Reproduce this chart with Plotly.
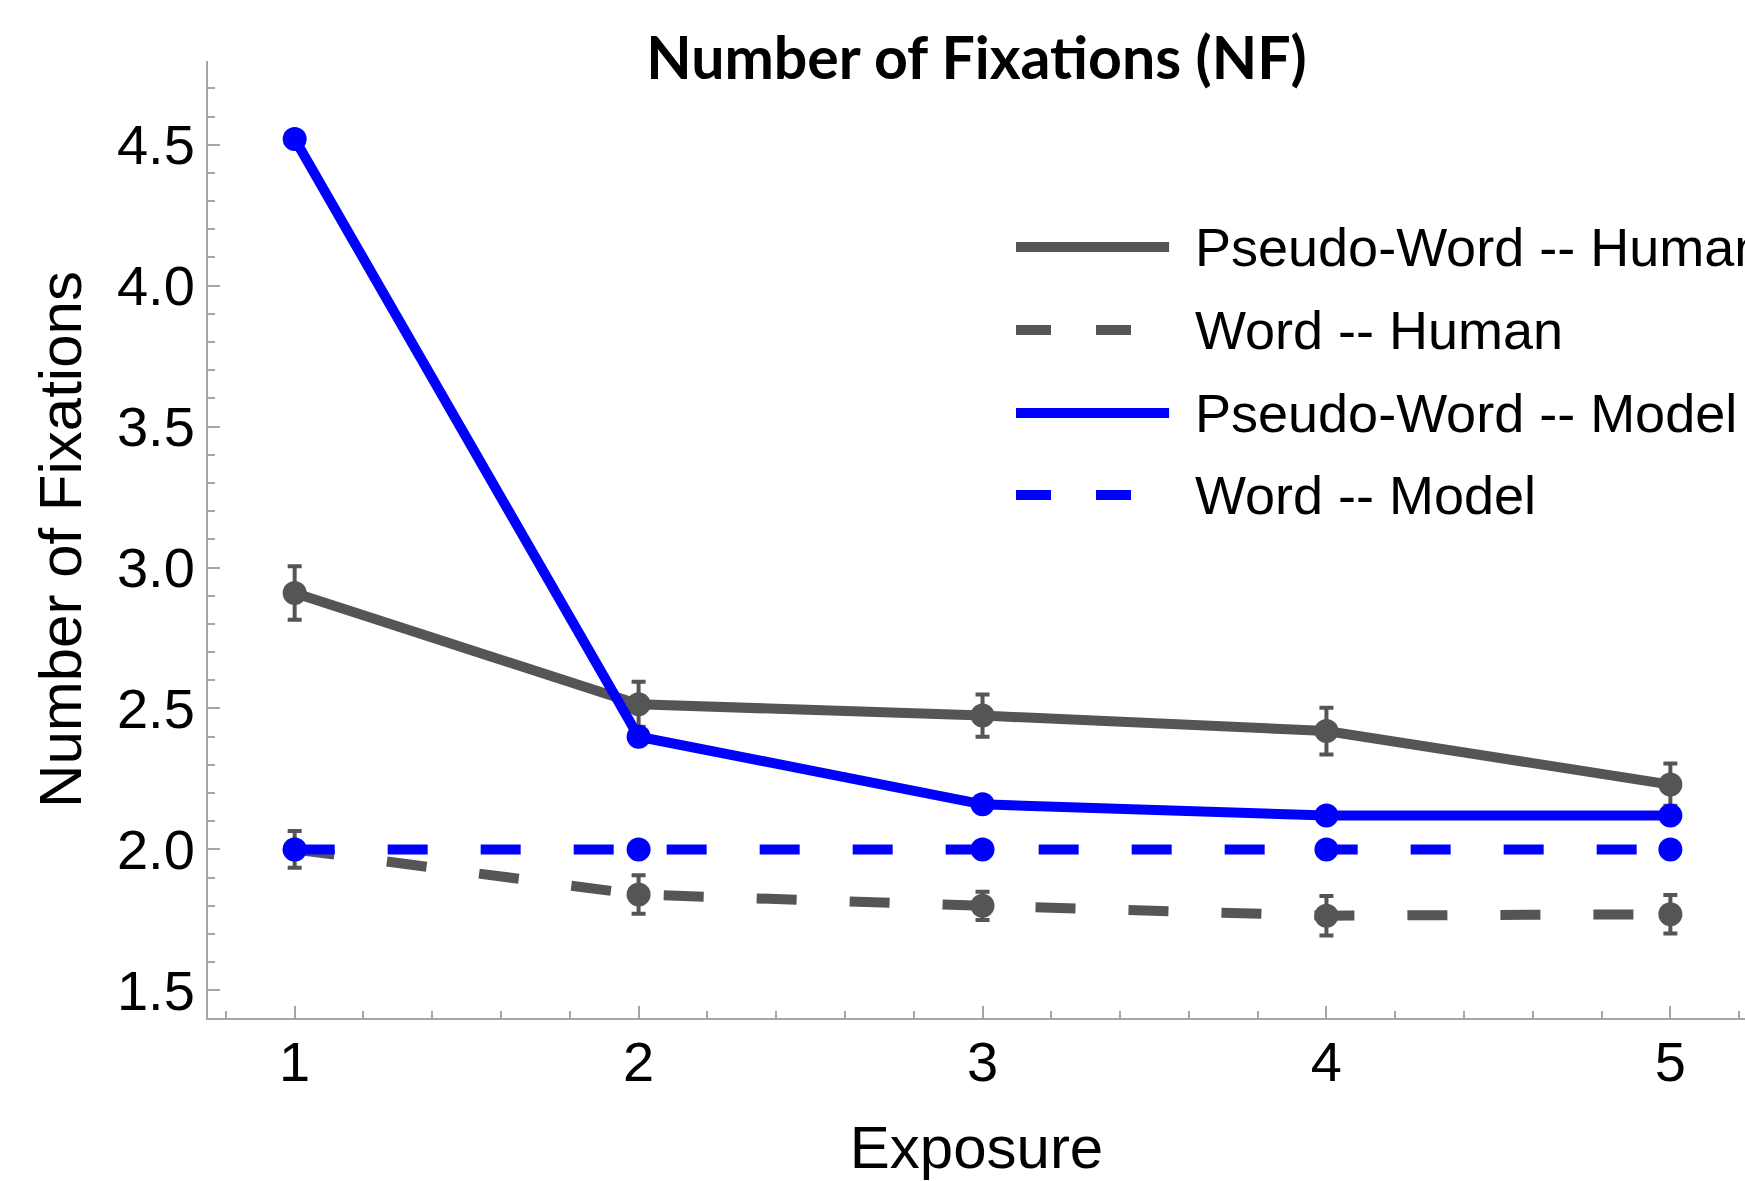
import plotly.graph_objects as go

exposure = [1, 2, 3, 4, 5]
pw_human = [2.91, 2.515, 2.475, 2.42, 2.23]
pw_human_err = [0.095, 0.08, 0.075, 0.083, 0.075]
w_human = [2.0, 1.84, 1.80, 1.765, 1.77]
w_human_err = [0.065, 0.068, 0.05, 0.07, 0.068]
pw_model = [4.52, 2.40, 2.16, 2.12, 2.12]
w_model = [2.0, 2.0, 2.0, 2.0, 2.0]

series_names = ["Pseudo-Word -- Human", "Word -- Human", "Pseudo-Word -- Model", "Word -- Model"]
yticks = [1.5, 2.0, 2.5, 3.0, 3.5, 4.0, 4.5]
xticks = [1, 2, 3, 4, 5]

GRAY = "#555555"
BLUE = "#0000FF"
AXC = "#a6a6a6"
FONT = "Liberation Sans"
LW = 10
MS = 24
DASH = "40px,53px"

fig = go.Figure()

def err(arr):
    return dict(type="data", array=arr, visible=True, color=GRAY, thickness=4, width=7)

fig.add_trace(go.Scatter(x=exposure, y=pw_human, mode="lines+markers", name=series_names[0],
                         line=dict(color=GRAY, width=LW), marker=dict(color=GRAY, size=MS),
                         error_y=err(pw_human_err), showlegend=False))
fig.add_trace(go.Scatter(x=exposure, y=w_human, mode="lines+markers", name=series_names[1],
                         line=dict(color=GRAY, width=LW, dash=DASH), marker=dict(color=GRAY, size=MS),
                         error_y=err(w_human_err), showlegend=False))
fig.add_trace(go.Scatter(x=exposure, y=pw_model, mode="lines+markers", name=series_names[2],
                         line=dict(color=BLUE, width=LW), marker=dict(color=BLUE, size=MS),
                         showlegend=False))
fig.add_trace(go.Scatter(x=exposure, y=w_model, mode="lines+markers", name=series_names[3],
                         line=dict(color=BLUE, width=LW, dash=DASH), marker=dict(color=BLUE, size=MS),
                         showlegend=False))

# manual legend (long line samples, no markers)
leg_colors = [GRAY, GRAY, BLUE, BLUE]
leg_dash = ["solid", "35px,45px", "solid", "35px,45px"]
leg_y = [0.8056, 0.7188, 0.6321, 0.5464]
for name, c, d, yy in zip(series_names, leg_colors, leg_dash, leg_y):
    fig.add_shape(type="line", xref="paper", yref="paper", x0=0.5257, x1=0.6253, y0=yy, y1=yy,
                  line=dict(color=c, width=LW, dash=d))
    fig.add_annotation(xref="paper", yref="paper", x=0.6407, y=yy, text=name, showarrow=False,
                       xanchor="left", yanchor="middle", font=dict(family=FONT, size=54, color="black"))

fig.update_layout(
    width=1745, height=1181,
    margin=dict(l=208, r=0, t=61, b=163, autoexpand=False),
    paper_bgcolor="white", plot_bgcolor="white",
    title=dict(text="<b>Number of Fixations (NF)</b>", x=0.5, xref="paper", xanchor="center",
               y=0.951, yref="container", yanchor="middle", automargin=False,
               font=dict(family="Lato", size=59, color="black")),
    font=dict(family=FONT, color="black"),
)
fig.update_xaxes(range=[0.748, 5.217], tickvals=xticks, ticktext=[str(v) for v in xticks],
                 automargin=False,
                 showline=True, linecolor=AXC, linewidth=2, ticks="inside", ticklen=12,
                 tickcolor=AXC, tickwidth=1.5, showgrid=False, zeroline=False,
                 tickfont=dict(family=FONT, size=56), ticklabelstandoff=-6,
                 minor=dict(dtick=0.2, tick0=0, ticks="inside", ticklen=7, tickcolor=AXC, tickwidth=1.5, showgrid=False),
                 title=dict(text="Exposure", font=dict(family=FONT, size=60), standoff=37))
fig.update_yaxes(range=[1.402, 4.797], tickvals=yticks, ticktext=[f"{v:.1f}" for v in yticks],
                 automargin=False,
                 showline=True, linecolor=AXC, linewidth=2, ticks="inside", ticklen=12,
                 tickcolor=AXC, tickwidth=1.5, showgrid=False, zeroline=False,
                 tickfont=dict(family=FONT, size=56),
                 minor=dict(dtick=0.1, tick0=0, ticks="inside", ticklen=7, tickcolor=AXC, tickwidth=1.5, showgrid=False),
                 title=dict(text="Number of Fixations", font=dict(family=FONT, size=60), standoff=16))

fig.write_html("out.html", config={"displayModeBar": False},
               post_script="document.body.style.margin='0';")
